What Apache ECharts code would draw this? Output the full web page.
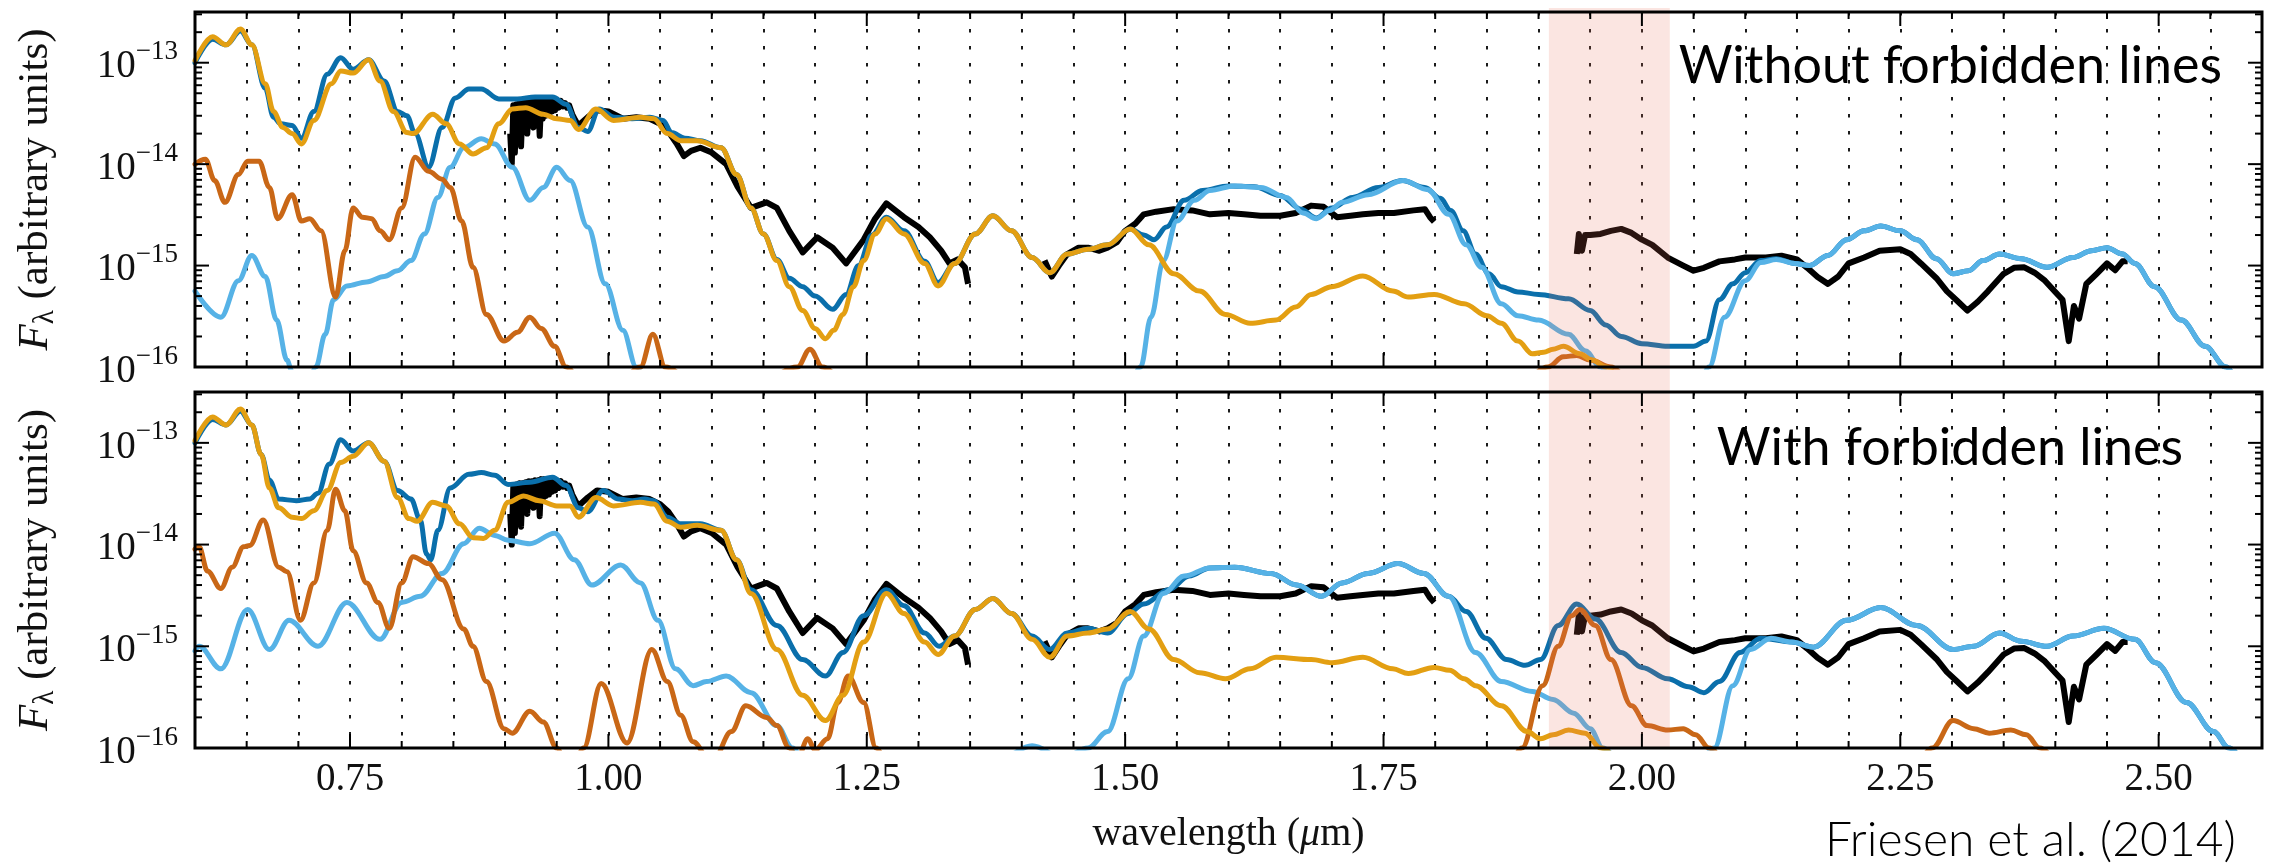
<!DOCTYPE html>
<html>
<head>
<meta charset="utf-8">
<title>Model spectra without and with forbidden lines</title>
<script src="https://cdn.jsdelivr.net/npm/echarts@6/dist/echarts.min.js"></script>
<style>
  html, body { margin: 0; padding: 0; background: #ffffff; }
  #chart { width: 2271px; height: 866px; }
</style>
</head>
<body>
<div id="chart"></div>
<script>
// ---------------------------------------------------------------------------
// Data: wavelength (micron) and F_lambda (arbitrary units)
// ---------------------------------------------------------------------------

// Observed spectrum (same in both panels); '-' marks the telluric gaps
const observed = [
  [0.905, 2.0e-14], [0.9065, 1.0e-14], [0.908, 3.8e-14], [0.9095, 1.3e-14], [0.911, 3.9e-14],
  [0.9125, 1.8e-14], [0.914, 4.0e-14], [0.9155, 1.5e-14], [0.917, 4.0e-14], [0.9185, 2.2e-14],
  [0.920, 4.1e-14], [0.9215, 2.0e-14], [0.923, 4.2e-14], [0.9245, 2.4e-14], [0.926, 4.2e-14],
  [0.9275, 2.3e-14], [0.929, 4.3e-14], [0.9305, 2.6e-14], [0.932, 4.3e-14], [0.9335, 1.9e-14],
  [0.935, 4.4e-14], [0.9365, 2.8e-14], [0.938, 4.4e-14], [0.9395, 3.0e-14], [0.941, 4.4e-14],
  [0.9425, 3.1e-14], [0.944, 4.4e-14], [0.9455, 3.3e-14], [0.947, 4.3e-14], [0.9485, 3.4e-14],
  [0.950, 4.3e-14], [0.952, 3.6e-14], [0.954, 4.2e-14], [0.956, 3.7e-14], [0.958, 4.0e-14],
  [0.960, 3.6e-14], [0.962, 3.8e-14], [0.965, 3.1e-14], [0.968, 2.7e-14], [0.971, 2.4e-14],
  [0.980, 2.9e-14], [0.989, 3.4e-14], [1.000, 3.3e-14], [1.014, 2.8e-14],
  [1.027, 2.9e-14], [1.040, 2.8e-14], [1.050, 2.5e-14], [1.058, 2.1e-14], [1.066, 1.6e-14],
  [1.073, 1.2e-14], [1.080, 1.35e-14], [1.089, 1.45e-14], [1.100, 1.3e-14], [1.114, 1.0e-14],
  [1.125, 6.0e-15], [1.138, 3.7e-15], [1.153, 4.2e-15], [1.163, 3.7e-15], [1.175, 2.2e-15],
  [1.188, 1.35e-15], [1.202, 1.9e-15], [1.217, 1.5e-15], [1.230, 1.05e-15], [1.247, 1.8e-15],
  [1.258, 2.9e-15], [1.269, 4.1e-15], [1.286, 3.0e-15], [1.300, 2.4e-15], [1.311, 1.9e-15],
  [1.322, 1.4e-15], [1.330, 1.05e-15], [1.338, 1.15e-15], [1.345, 9.6e-16], [1.348, 6.6e-16],
  [1.390, '-'],
  [1.422, 1.12e-15], [1.429, 7.8e-16], [1.436, 1.0e-15], [1.444, 1.3e-15], [1.455, 1.5e-15],
  [1.464, 1.5e-15], [1.475, 1.4e-15], [1.483, 1.5e-15], [1.492, 1.7e-15], [1.500, 2.2e-15],
  [1.510, 2.6e-15], [1.518, 3.2e-15], [1.530, 3.4e-15], [1.547, 3.6e-15], [1.565, 3.5e-15],
  [1.582, 3.2e-15], [1.600, 3.3e-15], [1.615, 3.2e-15], [1.631, 3.1e-15], [1.650, 3.1e-15],
  [1.665, 3.3e-15], [1.680, 3.9e-15], [1.692, 3.8e-15], [1.705, 3.0e-15], [1.718, 3.1e-15],
  [1.730, 3.2e-15], [1.745, 3.3e-15], [1.760, 3.3e-15], [1.779, 3.5e-15], [1.790, 3.6e-15],
  [1.795, 3.0e-15], [1.799, 2.7e-15],
  [1.870, '-'],
  [1.937, 1.3e-15], [1.939, 2.05e-15], [1.942, 1.4e-15], [1.945, 2.0e-15], [1.950, 2.0e-15],
  [1.960, 2.05e-15], [1.970, 2.2e-15], [1.980, 2.3e-15], [1.990, 2.1e-15], [2.000, 1.8e-15],
  [2.010, 1.6e-15], [2.025, 1.2e-15], [2.040, 1.0e-15], [2.050, 8.9e-16], [2.060, 9.5e-16],
  [2.075, 1.1e-15], [2.090, 1.15e-15], [2.100, 1.2e-15], [2.120, 1.2e-15], [2.135, 1.25e-15],
  [2.150, 1.15e-15], [2.160, 9.5e-16], [2.170, 7.7e-16], [2.180, 6.6e-16], [2.190, 7.8e-16],
  [2.200, 1.05e-15], [2.215, 1.2e-15], [2.230, 1.4e-15], [2.250, 1.45e-15], [2.260, 1.3e-15],
  [2.270, 1.05e-15], [2.285, 7.5e-16], [2.295, 5.6e-16], [2.305, 4.5e-16], [2.315, 3.6e-16],
  [2.325, 4.4e-16], [2.335, 5.6e-16], [2.350, 8.3e-16], [2.360, 9.5e-16], [2.370, 9.6e-16],
  [2.380, 8.5e-16], [2.390, 7.1e-16], [2.400, 5.5e-16], [2.407, 4.6e-16], [2.413, 1.8e-16],
  [2.418, 4.0e-16], [2.423, 3.0e-16], [2.430, 6.6e-16], [2.440, 8.3e-16], [2.450, 1.05e-15],
  [2.458, 9.0e-16], [2.465, 1.1e-15], [2.470, 1.1e-15]
];

// Upper panel: model without forbidden lines
const upperTotal = [
  [0.600, 1.0e-13], [0.617, 1.7e-13], [0.630, 1.5e-13], [0.644, 2.05e-13], [0.655, 1.5e-13],
  [0.668, 5.6e-14], [0.676, 2.9e-14], [0.683, 2.5e-14], [0.694, 2.4e-14], [0.703, 1.8e-14],
  [0.715, 3.3e-14], [0.728, 7.7e-14], [0.741, 1.12e-13], [0.753, 8.6e-14], [0.768, 1.07e-13],
  [0.783, 6.6e-14], [0.796, 3.3e-14], [0.805, 3.0e-14], [0.813, 2.0e-14], [0.826, 9.3e-15],
  [0.839, 2.3e-14], [0.852, 4.5e-14], [0.865, 5.5e-14], [0.877, 5.5e-14], [0.894, 4.4e-14],
  [0.912, 4.4e-14], [0.929, 4.6e-14], [0.946, 4.6e-14], [0.959, 3.9e-14], [0.971, 2.3e-14],
  [0.980, 2.1e-14], [0.991, 3.5e-14], [1.006, 2.9e-14], [1.023, 2.8e-14], [1.040, 2.9e-14],
  [1.053, 2.7e-14], [1.061, 2.05e-14], [1.074, 1.8e-14], [1.089, 1.7e-14], [1.109, 1.45e-14],
  [1.124, 7.9e-15], [1.138, 3.7e-15], [1.150, 2.05e-15], [1.163, 1.15e-15], [1.175, 7.5e-16],
  [1.188, 6.2e-16], [1.200, 5.0e-16], [1.217, 3.7e-16], [1.230, 5.2e-16], [1.242, 1.0e-15],
  [1.255, 2.0e-15], [1.269, 3.0e-15], [1.286, 2.2e-15], [1.306, 1.1e-15], [1.319, 6.8e-16],
  [1.335, 1.05e-15], [1.355, 2.05e-15], [1.372, 3.1e-15], [1.390, 2.2e-15], [1.410, 1.2e-15],
  [1.427, 8.5e-16], [1.444, 1.3e-15], [1.464, 1.45e-15], [1.483, 1.6e-15], [1.505, 2.3e-15],
  [1.518, 2.0e-15], [1.528, 1.8e-15], [1.540, 2.4e-15], [1.557, 4.4e-15], [1.575, 5.5e-15],
  [1.600, 6.1e-15], [1.625, 6.0e-15], [1.650, 4.9e-15], [1.670, 3.6e-15], [1.685, 2.95e-15],
  [1.700, 3.7e-15], [1.720, 4.7e-15], [1.745, 5.9e-15], [1.768, 6.9e-15], [1.790, 5.9e-15],
  [1.805, 4.6e-15], [1.815, 3.5e-15], [1.827, 2.2e-15], [1.839, 1.3e-15], [1.852, 8.3e-16],
  [1.864, 6.2e-16], [1.880, 5.5e-16], [1.900, 5.2e-16], [1.929, 4.7e-16], [1.950, 3.6e-16],
  [1.965, 2.6e-16], [1.980, 2.0e-16], [2.000, 1.7e-16], [2.025, 1.6e-16], [2.050, 1.6e-16],
  [2.062, 1.8e-16], [2.075, 4.6e-16], [2.088, 6.6e-16], [2.100, 8.5e-16], [2.115, 1.12e-15],
  [2.130, 1.17e-15], [2.148, 1.05e-15], [2.162, 1.0e-15], [2.180, 1.26e-15], [2.198, 1.8e-15],
  [2.215, 2.2e-15], [2.231, 2.45e-15], [2.250, 2.2e-15], [2.266, 1.8e-15], [2.285, 1.17e-15],
  [2.301, 8.3e-16], [2.316, 8.9e-16], [2.330, 1.12e-15], [2.346, 1.3e-15], [2.367, 1.17e-15],
  [2.392, 9.6e-16], [2.417, 1.2e-15], [2.435, 1.4e-15], [2.450, 1.5e-15], [2.465, 1.3e-15],
  [2.477, 1.05e-15], [2.496, 6.2e-16], [2.522, 2.9e-16], [2.545, 1.6e-16], [2.565, 1.0e-16],
  [2.585, 5.0e-17], [2.600, 3.0e-17]
];

const upperCool = [
  [0.600, 5.6e-16], [0.625, 3.1e-16], [0.642, 7.1e-16], [0.655, 1.26e-15], [0.668, 7.8e-16],
  [0.679, 2.9e-16], [0.689, 1.17e-16], [0.694, 9.0e-17], [0.705, 4.0e-17], [0.717, 1.0e-16],
  [0.726, 2.1e-16], [0.734, 4.6e-16], [0.747, 6.3e-16], [0.766, 6.9e-16], [0.783, 7.8e-16],
  [0.796, 8.9e-16], [0.809, 1.12e-15], [0.822, 2.05e-15], [0.835, 4.7e-15], [0.847, 9.3e-15],
  [0.860, 1.45e-14], [0.877, 1.78e-14], [0.890, 1.58e-14], [0.907, 9.3e-15], [0.924, 4.4e-15],
  [0.937, 5.9e-15], [0.950, 9.3e-15], [0.963, 6.9e-15], [0.980, 2.4e-15], [0.997, 6.6e-16],
  [1.014, 2.3e-16], [1.027, 1.0e-16], [1.045, 3.0e-17], [1.300, 2.0e-17], [1.495, 3.0e-17],
  [1.515, 1.0e-16], [1.525, 3.1e-16], [1.537, 1.12e-15], [1.550, 2.75e-15], [1.567, 4.4e-15],
  [1.582, 5.5e-15], [1.606, 6.1e-15], [1.631, 5.9e-15], [1.656, 4.7e-15], [1.672, 3.3e-15],
  [1.685, 2.9e-15], [1.698, 3.5e-15], [1.710, 4.2e-15], [1.735, 5.0e-15], [1.769, 6.9e-15],
  [1.793, 5.6e-15], [1.813, 3.2e-15], [1.830, 1.6e-15], [1.845, 9.6e-16], [1.864, 4.2e-16],
  [1.880, 3.2e-16], [1.900, 2.9e-16], [1.929, 2.1e-16], [1.945, 1.45e-16], [1.960, 1.0e-16],
  [1.980, 4.0e-17], [2.020, 1.5e-17], [2.050, 4.0e-17], [2.065, 1.0e-16], [2.080, 3.1e-16],
  [2.100, 7.1e-16], [2.115, 1.07e-15], [2.130, 1.15e-15], [2.148, 1.05e-15], [2.162, 1.0e-15],
  [2.180, 1.26e-15], [2.198, 1.8e-15], [2.215, 2.2e-15], [2.231, 2.45e-15], [2.250, 2.2e-15],
  [2.266, 1.8e-15], [2.285, 1.17e-15], [2.301, 8.3e-16], [2.316, 8.9e-16], [2.330, 1.12e-15],
  [2.346, 1.3e-15], [2.367, 1.17e-15], [2.392, 9.6e-16], [2.417, 1.2e-15], [2.435, 1.4e-15],
  [2.450, 1.5e-15], [2.465, 1.3e-15], [2.477, 1.05e-15], [2.496, 6.2e-16], [2.522, 2.9e-16],
  [2.545, 1.6e-16], [2.565, 1.0e-16], [2.585, 5.0e-17], [2.600, 3.0e-17]
];

const upperHot = [
  [0.600, 1.05e-13], [0.617, 1.8e-13], [0.630, 1.5e-13], [0.644, 2.15e-13], [0.655, 1.5e-13],
  [0.668, 6.2e-14], [0.676, 3.3e-14], [0.685, 2.3e-14], [0.694, 2.0e-14], [0.703, 1.58e-14],
  [0.715, 2.7e-14], [0.732, 6.2e-14], [0.741, 8.3e-14], [0.753, 7.9e-14], [0.768, 1.07e-13],
  [0.779, 6.6e-14], [0.792, 3.3e-14], [0.805, 2.05e-14], [0.811, 2.0e-14], [0.830, 3.1e-14],
  [0.843, 2.5e-14], [0.856, 1.58e-14], [0.869, 1.26e-14], [0.882, 1.45e-14], [0.894, 2.5e-14],
  [0.907, 3.5e-14], [0.920, 3.6e-14], [0.937, 3.1e-14], [0.950, 2.8e-14], [0.963, 2.7e-14],
  [0.971, 2.2e-14], [0.988, 3.5e-14], [1.005, 2.7e-14], [1.031, 2.9e-14], [1.044, 2.8e-14],
  [1.057, 2.0e-14], [1.070, 1.7e-14], [1.086, 1.7e-14], [1.109, 1.45e-14], [1.124, 7.9e-15],
  [1.138, 3.7e-15], [1.150, 2.05e-15], [1.163, 1.12e-15], [1.175, 6.2e-16], [1.188, 3.6e-16],
  [1.200, 2.4e-16], [1.210, 1.9e-16], [1.218, 2.3e-16], [1.227, 3.3e-16], [1.237, 6.2e-16],
  [1.247, 1.12e-15], [1.258, 2.05e-15], [1.269, 2.9e-15], [1.286, 2.05e-15], [1.306, 1.05e-15],
  [1.319, 6.3e-16], [1.335, 1.05e-15], [1.355, 2.05e-15], [1.372, 3.1e-15], [1.390, 2.2e-15],
  [1.410, 1.2e-15], [1.427, 8.5e-16], [1.444, 1.3e-15], [1.464, 1.45e-15], [1.483, 1.6e-15],
  [1.505, 2.3e-15], [1.523, 1.6e-15], [1.547, 8.3e-16], [1.572, 5.6e-16], [1.597, 3.3e-16],
  [1.621, 2.7e-16], [1.646, 2.9e-16], [1.665, 3.9e-16], [1.680, 5.2e-16], [1.700, 6.2e-16],
  [1.730, 7.9e-16], [1.759, 5.6e-16], [1.774, 4.9e-16], [1.799, 5.2e-16], [1.828, 4.2e-16],
  [1.850, 3.2e-16], [1.864, 2.7e-16], [1.880, 1.8e-16], [1.894, 1.35e-16], [1.905, 1.4e-16],
  [1.914, 1.5e-16], [1.924, 1.6e-16], [1.940, 1.35e-16], [1.952, 1.17e-16], [1.965, 1.0e-16],
  [1.990, 5.0e-17], [2.050, 2.0e-17]
];

const upperWarm = [
  [0.600, 1.0e-14], [0.610, 1.12e-14], [0.619, 6.9e-15], [0.629, 4.2e-15], [0.642, 7.9e-15],
  [0.651, 1.07e-14], [0.662, 1.07e-14], [0.672, 5.9e-15], [0.680, 2.9e-15], [0.694, 5.0e-15],
  [0.703, 2.75e-15], [0.711, 2.9e-15], [0.722, 2.2e-15], [0.736, 4.9e-16], [0.745, 1.4e-15],
  [0.753, 3.7e-15], [0.762, 3.0e-15], [0.771, 2.9e-15], [0.779, 2.2e-15], [0.788, 1.8e-15],
  [0.800, 3.7e-15], [0.813, 1.17e-14], [0.826, 8.5e-15], [0.839, 7.1e-15], [0.847, 5.9e-15],
  [0.858, 2.75e-15], [0.869, 9.6e-16], [0.882, 3.3e-16], [0.899, 1.8e-16], [0.912, 2.2e-16],
  [0.924, 3.1e-16], [0.935, 2.4e-16], [0.948, 1.6e-16], [0.959, 1.0e-16], [0.990, 3.0e-17],
  [1.031, 1.0e-16], [1.043, 2.1e-16], [1.055, 1.0e-16], [1.110, 3.0e-17], [1.183, 1.0e-16],
  [1.195, 1.5e-16], [1.207, 1.0e-16], [1.260, 2.0e-17], [1.850, 2.0e-17], [1.909, 1.0e-16],
  [1.924, 1.26e-16], [1.937, 1.3e-16], [1.950, 1.17e-16], [1.970, 1.0e-16], [2.000, 4.0e-17]
];

// Lower panel: model with forbidden lines
const lowerTotal = [
  [0.600, 1.0e-13], [0.617, 1.7e-13], [0.630, 1.5e-13], [0.644, 2.05e-13], [0.655, 1.5e-13],
  [0.664, 7.7e-14], [0.672, 4.3e-14], [0.681, 2.8e-14], [0.698, 2.7e-14], [0.711, 2.8e-14],
  [0.719, 3.2e-14], [0.730, 6.2e-14], [0.741, 1.07e-13], [0.753, 8.3e-14], [0.768, 1.0e-13],
  [0.783, 6.6e-14], [0.796, 3.4e-14], [0.809, 2.8e-14], [0.818, 1.74e-14], [0.824, 8.1e-15],
  [0.828, 7.1e-15], [0.835, 1.38e-14], [0.847, 3.6e-14], [0.865, 4.9e-14], [0.877, 5.1e-14],
  [0.890, 4.8e-14], [0.903, 3.9e-14], [0.924, 4.1e-14], [0.946, 4.6e-14], [0.959, 3.8e-14],
  [0.971, 2.3e-14], [0.980, 2.1e-14], [0.995, 3.4e-14], [1.010, 2.8e-14], [1.023, 2.7e-14],
  [1.035, 2.8e-14], [1.044, 2.7e-14], [1.057, 1.86e-14], [1.070, 1.6e-14], [1.089, 1.6e-14],
  [1.109, 1.38e-14], [1.124, 7.1e-15], [1.138, 3.6e-15], [1.163, 1.6e-15], [1.188, 7.4e-16],
  [1.210, 5.1e-16], [1.227, 8.7e-16], [1.247, 2.0e-15], [1.269, 3.6e-15], [1.286, 2.5e-15],
  [1.306, 1.35e-15], [1.320, 1.0e-15], [1.335, 1.26e-15], [1.355, 2.3e-15], [1.372, 2.95e-15],
  [1.390, 2.1e-15], [1.410, 1.26e-15], [1.427, 9.3e-16], [1.444, 1.35e-15], [1.464, 1.5e-15],
  [1.483, 1.35e-15], [1.503, 2.1e-15], [1.518, 2.6e-15], [1.542, 3.6e-15], [1.562, 4.9e-15],
  [1.582, 5.9e-15], [1.606, 6.0e-15], [1.641, 5.2e-15], [1.666, 4.0e-15], [1.690, 3.1e-15],
  [1.710, 4.2e-15], [1.735, 5.2e-15], [1.764, 6.5e-15], [1.789, 5.2e-15], [1.813, 3.1e-15],
  [1.830, 2.2e-15], [1.849, 1.2e-15], [1.869, 7.4e-16], [1.887, 6.5e-16], [1.902, 7.4e-16],
  [1.919, 1.6e-15], [1.937, 2.6e-15], [1.955, 1.85e-15], [1.980, 8.7e-16], [2.000, 6.2e-16],
  [2.025, 4.8e-16], [2.045, 4.0e-16], [2.060, 3.5e-16], [2.075, 4.5e-16], [2.095, 8.7e-16],
  [2.115, 1.2e-15], [2.145, 1.1e-15], [2.166, 9.8e-16], [2.198, 1.8e-15], [2.231, 2.4e-15],
  [2.266, 1.6e-15], [2.301, 9.3e-16], [2.321, 1.0e-15], [2.346, 1.35e-15], [2.367, 1.12e-15],
  [2.392, 1.0e-15], [2.417, 1.26e-15], [2.447, 1.5e-15], [2.477, 1.17e-15], [2.497, 6.9e-16],
  [2.527, 2.8e-16], [2.553, 1.45e-16], [2.568, 1.0e-16], [2.600, 3.0e-17]
];

const lowerCool = [
  [0.600, 9.0e-16], [0.604, 1.0e-15], [0.625, 6.0e-16], [0.651, 2.3e-15], [0.672, 9.3e-16],
  [0.691, 1.8e-15], [0.719, 1.0e-15], [0.747, 2.7e-15], [0.779, 1.17e-15], [0.800, 2.7e-15],
  [0.818, 3.1e-15], [0.839, 5.2e-15], [0.860, 1.02e-14], [0.875, 1.45e-14], [0.890, 1.23e-14],
  [0.903, 1.1e-14], [0.924, 1.02e-14], [0.948, 1.29e-14], [0.967, 7.1e-15], [0.984, 4.0e-15],
  [1.012, 6.3e-15], [1.031, 4.2e-15], [1.048, 1.8e-15], [1.065, 6.0e-16], [1.082, 4.1e-16],
  [1.095, 4.5e-16], [1.114, 5.1e-16], [1.138, 3.5e-16], [1.163, 1.66e-16], [1.178, 1.0e-16],
  [1.200, 4.0e-17], [1.300, 2.0e-17], [1.380, 8.0e-17], [1.410, 1.05e-16], [1.440, 8.0e-17],
  [1.464, 1.0e-16], [1.483, 1.45e-16], [1.503, 4.8e-16], [1.518, 1.26e-15], [1.537, 3.3e-15],
  [1.557, 4.9e-15], [1.582, 5.9e-15], [1.606, 6.0e-15], [1.641, 5.2e-15], [1.666, 4.0e-15],
  [1.690, 3.1e-15], [1.710, 4.2e-15], [1.735, 5.2e-15], [1.764, 6.5e-15], [1.789, 5.2e-15],
  [1.813, 3.1e-15], [1.839, 8.7e-16], [1.864, 4.5e-16], [1.894, 3.6e-16], [1.914, 3.0e-16],
  [1.934, 2.2e-16], [1.950, 1.55e-16], [1.962, 1.0e-16], [2.000, 3.0e-17], [2.040, 3.0e-17],
  [2.070, 1.0e-16], [2.088, 4.1e-16], [2.105, 9.3e-16], [2.125, 1.2e-15], [2.145, 1.1e-15],
  [2.166, 9.8e-16], [2.198, 1.8e-15], [2.231, 2.4e-15], [2.266, 1.6e-15], [2.301, 9.3e-16],
  [2.321, 1.0e-15], [2.346, 1.35e-15], [2.367, 1.12e-15], [2.392, 1.0e-15], [2.417, 1.26e-15],
  [2.447, 1.5e-15], [2.477, 1.17e-15], [2.497, 6.9e-16], [2.527, 2.8e-16], [2.553, 1.45e-16],
  [2.568, 1.0e-16], [2.600, 3.0e-17]
];

const lowerHot = [
  [0.600, 1.05e-13], [0.617, 1.8e-13], [0.630, 1.5e-13], [0.644, 2.15e-13], [0.655, 1.5e-13],
  [0.664, 7.7e-14], [0.672, 3.6e-14], [0.681, 2.3e-14], [0.694, 1.86e-14], [0.703, 1.8e-14],
  [0.715, 2.15e-14], [0.728, 3.4e-14], [0.741, 6.4e-14], [0.753, 7.4e-14], [0.768, 1.0e-13],
  [0.783, 6.6e-14], [0.796, 2.9e-14], [0.807, 1.8e-14], [0.815, 1.7e-14], [0.830, 2.6e-14],
  [0.843, 2.4e-14], [0.856, 1.6e-14], [0.869, 1.17e-14], [0.879, 1.15e-14], [0.890, 1.38e-14],
  [0.903, 2.6e-14], [0.918, 3.0e-14], [0.933, 2.7e-14], [0.950, 2.4e-14], [0.963, 2.4e-14],
  [0.971, 1.86e-14], [0.988, 2.9e-14], [1.005, 2.4e-14], [1.031, 2.6e-14], [1.044, 2.5e-14],
  [1.057, 1.7e-14], [1.070, 1.48e-14], [1.086, 1.55e-14], [1.109, 1.38e-14], [1.124, 7.1e-15],
  [1.138, 3.3e-15], [1.163, 9.3e-16], [1.188, 3.3e-16], [1.210, 1.86e-16], [1.227, 3.3e-16],
  [1.247, 1.1e-15], [1.269, 3.3e-15], [1.286, 2.1e-15], [1.306, 1.1e-15], [1.319, 8.3e-16],
  [1.335, 1.26e-15], [1.355, 2.3e-15], [1.372, 2.95e-15], [1.390, 2.1e-15], [1.410, 1.17e-15],
  [1.427, 7.8e-16], [1.444, 1.26e-15], [1.464, 1.35e-15], [1.483, 1.48e-15], [1.505, 2.2e-15],
  [1.523, 1.48e-15], [1.547, 7.4e-16], [1.572, 5.5e-16], [1.597, 4.8e-16], [1.621, 6.0e-16],
  [1.646, 7.8e-16], [1.680, 7.4e-16], [1.700, 6.9e-16], [1.730, 7.8e-16], [1.759, 6.0e-16],
  [1.774, 5.4e-16], [1.799, 6.2e-16], [1.814, 5.8e-16], [1.828, 4.8e-16], [1.839, 4.1e-16],
  [1.864, 2.6e-16], [1.889, 1.45e-16], [1.902, 1.23e-16], [1.914, 1.35e-16], [1.929, 1.5e-16],
  [1.945, 1.4e-16], [1.960, 1.0e-16], [2.000, 4.0e-17], [2.050, 2.0e-17]
];

const lowerWarm = [
  [0.600, 9.0e-15], [0.604, 9.5e-15], [0.612, 5.5e-15], [0.625, 3.7e-15], [0.636, 6.0e-15],
  [0.647, 9.5e-15], [0.653, 9.8e-15], [0.666, 1.74e-14], [0.681, 6.0e-15], [0.689, 5.4e-15],
  [0.702, 1.8e-15], [0.715, 4.2e-15], [0.728, 1.38e-14], [0.736, 3.5e-14], [0.745, 2.15e-14],
  [0.753, 8.7e-15], [0.766, 4.2e-15], [0.777, 2.7e-15], [0.788, 1.5e-15], [0.800, 4.2e-15],
  [0.811, 7.6e-15], [0.826, 6.5e-15], [0.839, 4.5e-15], [0.860, 1.48e-15], [0.869, 1.0e-15],
  [0.882, 4.5e-16], [0.899, 1.55e-16], [0.907, 1.4e-16], [0.924, 2.3e-16], [0.937, 1.8e-16],
  [0.950, 1.0e-16], [0.963, 5.0e-17], [0.976, 1.0e-16], [0.993, 4.3e-16], [1.018, 1.12e-16],
  [1.042, 9.3e-16], [1.057, 4.5e-16], [1.070, 2.1e-16], [1.082, 1.15e-16], [1.100, 7.0e-17],
  [1.119, 1.45e-16], [1.133, 2.6e-16], [1.153, 2.0e-16], [1.163, 1.66e-16], [1.175, 1.0e-16],
  [1.183, 8.0e-17], [1.193, 1.23e-16], [1.200, 9.5e-17], [1.212, 1.23e-16], [1.222, 2.8e-16],
  [1.232, 5.1e-16], [1.247, 2.8e-16], [1.259, 1.0e-16], [1.280, 3.0e-17], [1.600, 1.0e-17],
  [1.860, 3.0e-17], [1.884, 1.0e-16], [1.904, 4.1e-16], [1.919, 1.0e-15], [1.932, 2.0e-15],
  [1.940, 2.3e-15], [1.955, 1.6e-15], [1.970, 7.4e-16], [1.990, 2.6e-16], [2.005, 1.66e-16],
  [2.025, 1.5e-16], [2.040, 1.55e-16], [2.052, 1.35e-16], [2.065, 1.0e-16], [2.100, 3.0e-17],
  [2.250, 3.0e-17], [2.281, 1.0e-16], [2.301, 1.86e-16], [2.321, 1.55e-16], [2.336, 1.4e-16],
  [2.357, 1.5e-16], [2.372, 1.35e-16], [2.385, 1.0e-16], [2.420, 3.0e-17]
];

// Shaded telluric band (micron)
const bandRange = [1.91, 2.027];

// Labelled x ticks and the flux decades
const majorTicks = [0.75, 1.00, 1.25, 1.50, 1.75, 2.00, 2.25, 2.50];
const decadeTicks = [1e-16, 1e-15, 1e-14, 1e-13];

const panelLabels = ['Without forbidden lines', 'With forbidden lines'];
const creditText = 'Friesen et al. (2014)';

// ---------------------------------------------------------------------------
// Layout and styling
// ---------------------------------------------------------------------------
const X_MIN = 0.6, X_MAX = 2.6, X_STEP = 0.05;
const Y_MIN = 1e-16, Y_MAX = Math.pow(10, -12.5);
const LEFT = 195, WIDTH = 2067;
const PANELS = [{ top: 12, height: 355 }, { top: 392, height: 356 }];
const SERIF = '"Liberation Serif", "DejaVu Serif", serif';
const SANS = 'Lato, "Open Sans", sans-serif';
const COLORS = { total: '#0a6fab', cool: '#56b2e6', hot: '#e39f12', warm: '#c96716', obs: '#000000' };

// minor x ticks every 0.05 micron, minor y ticks at 2..9 x each decade
const xTickValues = [];
for (let i = Math.round(X_MIN / X_STEP) + 1; i < Math.round(X_MAX / X_STEP); i++) {
  xTickValues.push(+(i * X_STEP).toFixed(2));
}
const yTickValues = [];
decadeTicks.forEach(d => {
  yTickValues.push(d);
  for (let m = 2; m <= 9; m++) { if (m * d <= Y_MAX) yTickValues.push(m * d); }
});
const isMajorX = v => majorTicks.some(m => Math.abs(m - v) < 1e-6);
const isDecade = v => Math.abs(Math.log10(v) - Math.round(Math.log10(v))) < 1e-6;

function modelLine(data, color, gi, z) {
  return {
    type: 'line', data, xAxisIndex: gi, yAxisIndex: gi,
    symbol: 'none', smooth: 0.35, smoothMonotone: 'x', clip: true, silent: true, z: z,
    lineStyle: { color, width: 5, cap: 'round', join: 'round' }
  };
}
function observedLine(gi) {
  return {
    type: 'line', data: observed, xAxisIndex: gi, yAxisIndex: gi,
    symbol: 'none', smooth: false, clip: true, silent: true, z: 1,
    lineStyle: { color: COLORS.obs, width: 6, join: 'round' }
  };
}
function xTickSeries(gi) {
  return {
    type: 'custom', xAxisIndex: gi, yAxisIndex: gi, silent: true, z: 8,
    data: xTickValues.map(v => [v, Y_MIN]),
    renderItem(params, api) {
      const cs = params.coordSys;
      const x = api.coord([api.value(0), Y_MIN])[0];
      const len = isMajorX(api.value(0)) ? 14 : 7;
      const b = cs.y + cs.height;
      const st = { stroke: '#000', lineWidth: 2 };
      return { type: 'group', children: [
        { type: 'line', shape: { x1: x, y1: b, x2: x, y2: b - len }, style: st },
        { type: 'line', shape: { x1: x, y1: cs.y, x2: x, y2: cs.y + len }, style: st }
      ] };
    }
  };
}
function yTickSeries(gi) {
  return {
    type: 'custom', xAxisIndex: gi, yAxisIndex: gi, silent: true, z: 8,
    data: yTickValues.map(v => [X_MIN, v]),
    renderItem(params, api) {
      const cs = params.coordSys;
      const y = api.coord([X_MIN, api.value(1)])[1];
      const len = isDecade(api.value(1)) ? 14 : 7;
      const r = cs.x + cs.width;
      const st = { stroke: '#000', lineWidth: 2 };
      return { type: 'group', children: [
        { type: 'line', shape: { x1: cs.x, y1: y, x2: cs.x + len, y2: y }, style: st },
        { type: 'line', shape: { x1: r, y1: y, x2: r - len, y2: y }, style: st }
      ] };
    }
  };
}
// translucent band spanning both panels
const bandSeries = {
  type: 'custom', xAxisIndex: 0, yAxisIndex: 0, silent: true, z: 6,
  data: [[bandRange[0], Y_MIN, bandRange[1]]],
  renderItem(params, api) {
    const x0 = api.coord([api.value(0), Y_MIN])[0];
    const x1 = api.coord([api.value(2), Y_MIN])[0];
    const top = PANELS[0].top - 4;
    const bottom = PANELS[1].top + PANELS[1].height + 1;
    return { type: 'rect', shape: { x: x0, y: top, width: x1 - x0, height: bottom - top },
             style: { fill: 'rgba(235,110,90,0.18)' } };
  }
};

const grids = PANELS.map(p => ({ left: LEFT, width: WIDTH, top: p.top, height: p.height, show: false }));

const xAxes = PANELS.map((p, i) => ({
  type: 'value', gridIndex: i, min: X_MIN, max: X_MAX, interval: X_STEP,
  axisLine: { show: false }, axisTick: { show: false },
  splitLine: { show: true, lineStyle: { color: '#1a1a1a', width: 2, type: [3.5, 13.5] } },
  axisLabel: {
    show: i === 1, margin: 12, color: '#111', fontFamily: SERIF, fontSize: 39,
    formatter: v => (isMajorX(v) ? v.toFixed(2) : '')
  },
  name: i === 1 ? 'wavelength ({i|μ}m)' : '',
  nameLocation: 'middle', nameGap: 66,
  nameTextStyle: {
    color: '#111', fontFamily: SERIF, fontSize: 40,
    rich: { i: { fontStyle: 'italic', fontFamily: SERIF, fontSize: 40, color: '#111' } }
  }
}));

const yAxes = PANELS.map((p, i) => ({
  type: 'log', logBase: 10, gridIndex: i, min: Y_MIN, max: Y_MAX,
  axisLine: { show: false }, axisTick: { show: false }, splitLine: { show: false },
  axisLabel: {
    margin: 17, color: '#111',
    formatter: v => {
      if (!isDecade(v)) return '';
      return '{b|10}{e|−' + Math.abs(Math.round(Math.log10(v))) + '}';
    },
    rich: {
      b: { fontFamily: SERIF, fontSize: 39, lineHeight: 48, verticalAlign: 'bottom', color: '#111' },
      e: { fontFamily: SERIF, fontSize: 27, lineHeight: 28, verticalAlign: 'top', color: '#111' }
    }
  }
}));

const series = [];
[[upperTotal, upperCool, upperWarm, upperHot], [lowerTotal, lowerCool, lowerWarm, lowerHot]].forEach((set, gi) => {
  series.push(observedLine(gi));
  series.push(modelLine(set[0], COLORS.total, gi, 2));
  series.push(modelLine(set[1], COLORS.cool, gi, 3));
  series.push(modelLine(set[2], COLORS.warm, gi, 4));
  series.push(modelLine(set[3], COLORS.hot, gi, 4));
  series.push(xTickSeries(gi));
  series.push(yTickSeries(gi));
});
series.push(bandSeries);

const yTitleRich = {
  i: { fontFamily: SERIF, fontSize: 43, fontStyle: 'italic', fill: '#111', lineHeight: 48, verticalAlign: 'middle' },
  s: { fontFamily: SERIF, fontSize: 29, fill: '#111', lineHeight: 29, verticalAlign: 'bottom' }
};

const graphics = [];
PANELS.forEach((p, i) => {
  graphics.push({
    type: 'rect', z: 50, silent: true,
    shape: { x: LEFT, y: p.top, width: WIDTH, height: p.height },
    style: { fill: 'none', stroke: '#000', lineWidth: 3 }
  });
  graphics.push({
    type: 'text', z: 50, silent: true, x: 36, y: p.top + p.height / 2, rotation: Math.PI / 2,
    style: { text: '{i|F}{s|λ} (arbitrary units)', fontFamily: SERIF, fontSize: 43, fill: '#111',
             align: 'center', verticalAlign: 'middle', rich: yTitleRich }
  });
});
graphics.push({
  type: 'text', z: 50, silent: true, x: 2222, y: 66,
  style: { text: panelLabels[0], fontFamily: SANS, fontSize: 52, fill: '#000', align: 'right', verticalAlign: 'middle' }
});
graphics.push({
  type: 'text', z: 50, silent: true, x: 2183, y: 448,
  style: { text: panelLabels[1], fontFamily: SANS, fontSize: 52, fill: '#000', align: 'right', verticalAlign: 'middle' }
});
graphics.push({
  type: 'text', z: 50, silent: true, x: 2236, y: 841,
  style: { text: creditText, fontFamily: SANS, fontSize: 48, fontWeight: 300, fill: '#000', align: 'right', verticalAlign: 'middle' }
});

const chart = echarts.init(document.getElementById('chart'), null, { renderer: 'canvas' });
chart.setOption({
  animation: false,
  backgroundColor: '#ffffff',
  grid: grids,
  xAxis: xAxes,
  yAxis: yAxes,
  series: series,
  graphic: graphics
});
</script>
</body>
</html>
